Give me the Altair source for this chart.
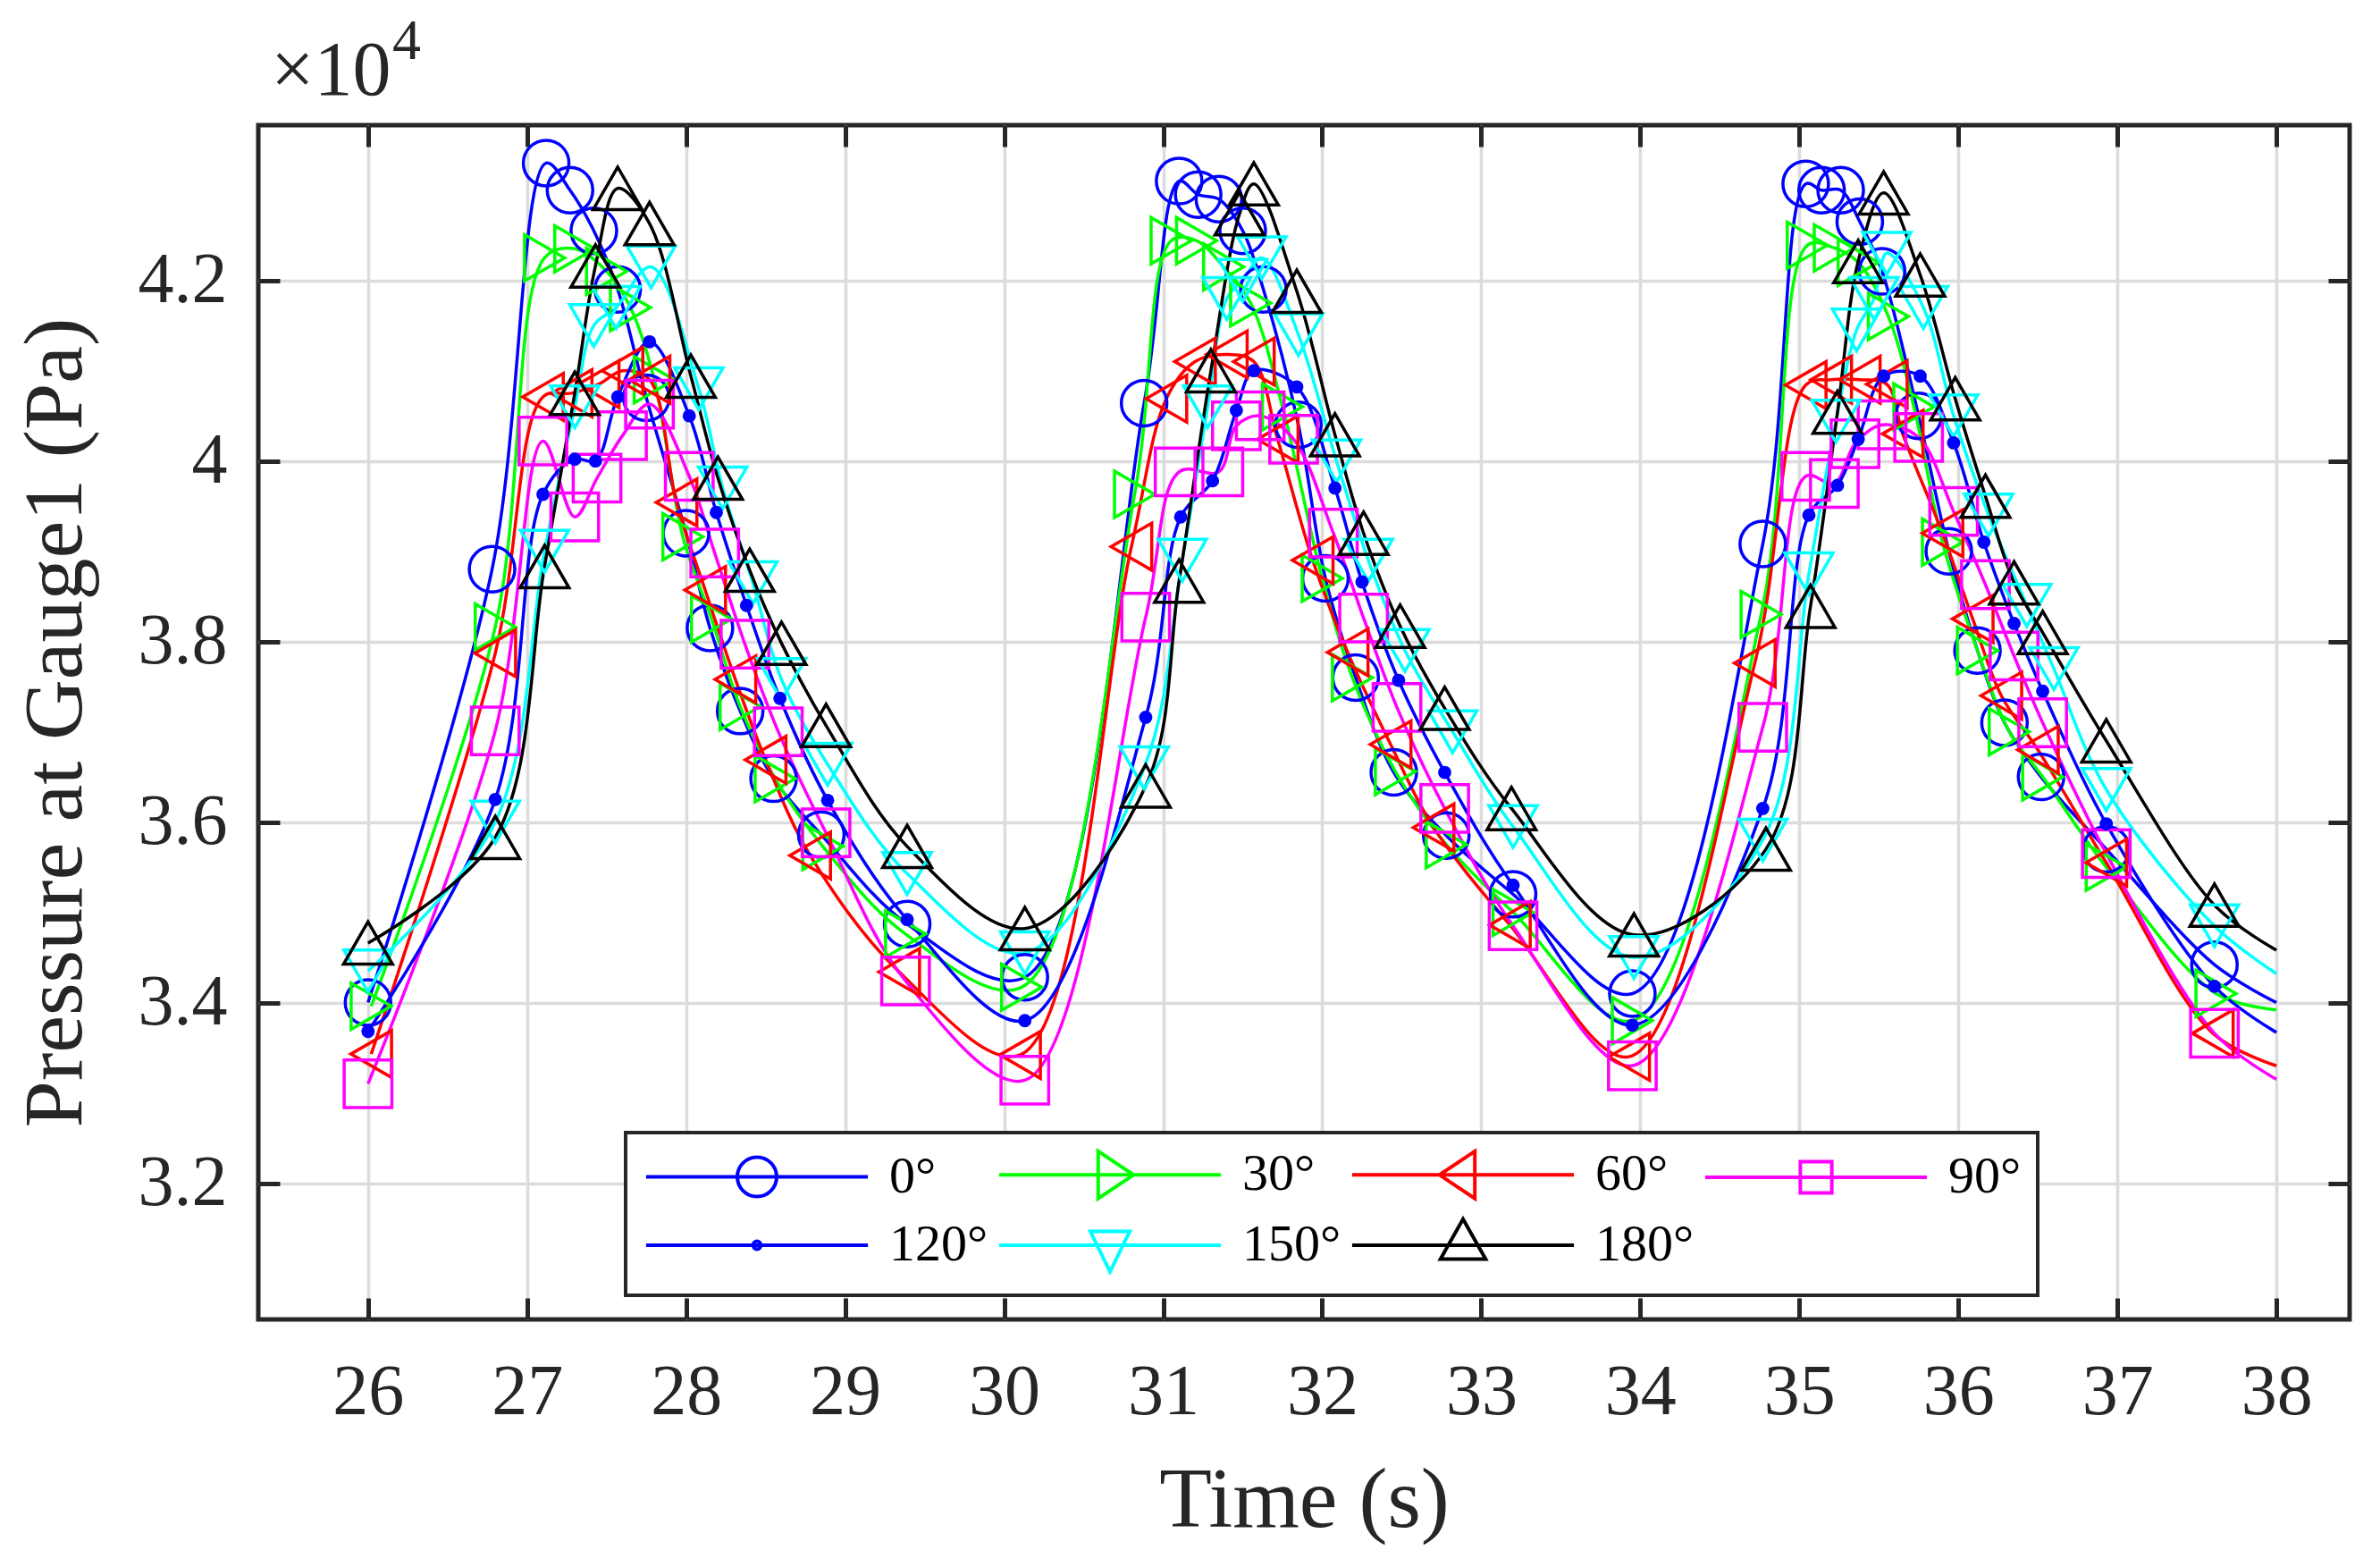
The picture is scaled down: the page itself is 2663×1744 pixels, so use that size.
import altair as alt
import pandas as pd

SERIES = ["0°", "30°", "60°", "90°", "120°", "150°", "180°"]
COLORS = ["#0000ff", "#00ff00", "#ff0000", "#ff00ff", "#0000ff", "#00ffff", "#000000"]

# pressure values in units of 1e4 Pa
T_0 = [26.00, 26.78, 27.12, 27.27, 27.42, 27.57, 27.75, 28.00, 28.15, 28.34, 28.55, 28.85, 29.39, 30.13,
       30.88, 31.10, 31.22, 31.35, 31.50, 31.63, 31.85, 32.02, 32.21, 32.45, 32.78, 33.20, 33.95,
       34.77, 35.04, 35.14, 35.26, 35.38, 35.52, 35.75, 35.94, 36.12, 36.29, 36.52, 36.93, 37.61]
P_0 = [3.400, 3.880, 4.330, 4.300, 4.255, 4.190, 4.070, 3.920, 3.815, 3.723, 3.648, 3.586, 3.487, 3.428,
       4.064, 4.310, 4.295, 4.290, 4.255, 4.190, 4.040, 3.870, 3.760, 3.655, 3.585, 3.520, 3.410,
       3.908, 4.307, 4.300, 4.300, 4.265, 4.210, 4.050, 3.900, 3.790, 3.710, 3.650, 3.570, 3.442]

T_30 = [26.02, 26.80, 27.11, 27.30, 27.50, 27.65, 27.80, 27.98, 28.16, 28.34, 28.56, 28.86, 29.38, 30.11,
        30.82, 31.05, 31.21, 31.38, 31.55, 31.75, 32.00, 32.19, 32.46, 32.78, 33.20, 33.95,
        34.76, 35.05, 35.22, 35.37, 35.56, 35.72, 35.90, 36.12, 36.32, 36.53, 36.93, 37.62]
P_30 = [3.396, 3.816, 4.225, 4.235, 4.210, 4.170, 4.090, 3.916, 3.825, 3.728, 3.648, 3.573, 3.476, 3.417,
        3.963, 4.244, 4.244, 4.215, 4.175, 4.060, 3.870, 3.760, 3.656, 3.575, 3.500, 3.380,
        3.830, 4.239, 4.236, 4.220, 4.160, 4.060, 3.910, 3.790, 3.700, 3.650, 3.550, 3.410]

T_60 = [26.02, 26.80, 27.10, 27.28, 27.45, 27.60, 27.77, 27.94, 28.12, 28.31, 28.50, 28.78, 29.34, 30.10,
        30.80, 31.02, 31.20, 31.40, 31.57, 31.72, 31.94, 32.16, 32.43, 32.70, 33.18, 33.93,
        34.72, 35.04, 35.20, 35.38, 35.55, 35.65, 35.90, 36.09, 36.27, 36.50, 36.93, 37.60]
P_60 = [3.343, 3.787, 4.071, 4.075, 4.085, 4.100, 4.090, 3.954, 3.857, 3.758, 3.669, 3.563, 3.434, 3.342,
        3.905, 4.069, 4.110, 4.118, 4.110, 4.024, 3.890, 3.788, 3.686, 3.594, 3.486, 3.340,
        3.776, 4.084, 4.090, 4.090, 4.085, 4.030, 3.920, 3.825, 3.740, 3.680, 3.555, 3.366]

T_90 = [26.00, 26.80, 27.10, 27.30, 27.44, 27.60, 27.77, 28.02, 28.18, 28.37, 28.58, 28.88, 29.38, 30.13,
        30.89, 31.10, 31.35, 31.46, 31.61, 31.82, 32.07, 32.26, 32.47, 32.77, 33.20, 33.95,
        34.77, 35.04, 35.22, 35.35, 35.52, 35.75, 35.97, 36.17, 36.35, 36.53, 36.93, 37.61]
P_90 = [3.310, 3.701, 4.022, 3.938, 3.981, 4.028, 4.063, 3.983, 3.898, 3.797, 3.700, 3.588, 3.424, 3.314,
        3.827, 3.988, 3.988, 4.039, 4.050, 4.024, 3.920, 3.826, 3.727, 3.615, 3.485, 3.330,
        3.705, 3.983, 3.975, 4.019, 4.040, 4.026, 3.944, 3.863, 3.784, 3.710, 3.565, 3.366]

T_120 = [26.00, 26.80, 27.10, 27.30, 27.43, 27.57, 27.77, 28.02, 28.19, 28.38, 28.59, 28.89, 29.39, 30.13,
         30.89, 31.11, 31.31, 31.46, 31.57, 31.84, 32.08, 32.25, 32.48, 32.77, 33.20, 33.95,
         34.77, 35.06, 35.24, 35.37, 35.53, 35.76, 35.97, 36.16, 36.35, 36.53, 36.93, 37.61]
P_120 = [3.368, 3.625, 3.963, 4.002, 4.000, 4.071, 4.132, 4.050, 3.943, 3.840, 3.737, 3.624, 3.492, 3.380,
         3.716, 3.938, 3.978, 4.056, 4.100, 4.082, 3.970, 3.866, 3.757, 3.655, 3.530, 3.375,
         3.615, 3.940, 3.973, 4.024, 4.094, 4.094, 4.020, 3.910, 3.820, 3.745, 3.598, 3.418]

T_150 = [26.00, 26.80, 27.11, 27.30, 27.42, 27.56, 27.78, 28.08, 28.23, 28.42, 28.60, 28.89, 29.39, 30.13,
         30.88, 31.12, 31.28, 31.40, 31.50, 31.62, 31.85, 32.09, 32.29, 32.52, 32.82, 33.20, 33.96,
         34.77, 35.06, 35.23, 35.36, 35.47, 35.55, 35.78, 35.97, 36.19, 36.43, 36.60, 36.93, 37.61]
P_150 = [3.435, 3.600, 3.900, 4.060, 4.150, 4.170, 4.215, 4.080, 3.970, 3.865, 3.758, 3.664, 3.543, 3.455,
         3.660, 3.890, 4.060, 4.180, 4.200, 4.225, 4.140, 4.000, 3.890, 3.790, 3.700, 3.595, 3.450,
         3.580, 3.875, 4.044, 4.145, 4.180, 4.230, 4.170, 4.050, 3.940, 3.840, 3.770, 3.636, 3.485]

T_180 = [26.00, 26.80, 27.11, 27.30, 27.43, 27.57, 27.77, 28.03, 28.20, 28.40, 28.60, 28.88, 29.39, 30.13,
         30.89, 31.10, 31.30, 31.48, 31.57, 31.84, 32.08, 32.26, 32.49, 32.77, 33.19, 33.96,
         34.79, 35.07, 35.24, 35.37, 35.53, 35.76, 35.98, 36.17, 36.35, 36.53, 36.93, 37.61]
P_180 = [3.466, 3.583, 3.883, 4.075, 4.216, 4.302, 4.263, 4.094, 3.981, 3.879, 3.798, 3.707, 3.573, 3.482,
         3.640, 3.867, 4.100, 4.274, 4.307, 4.188, 4.029, 3.920, 3.817, 3.726, 3.615, 3.475,
         3.570, 3.839, 4.054, 4.221, 4.297, 4.206, 4.069, 3.961, 3.865, 3.810, 3.690, 3.508]

# value of each curve where the lines end (t = 38 s, no marker)
END_T = 38.0
END_P = [3.400, 3.392, 3.330, 3.315, 3.367, 3.432, 3.458]

X_TICKS = [26, 27, 28, 29, 30, 31, 32, 33, 34, 35, 36, 37, 38]
Y_TICKS = [3.2, 3.4, 3.6, 3.8, 4.0, 4.2]

TS = [T_0, T_30, T_60, T_90, T_120, T_150, T_180]
PS = [P_0, P_30, P_60, P_90, P_120, P_150, P_180]

rows_m = []
for k, (s, ts, ps) in enumerate(zip(SERIES, TS, PS)):
    for t, p in zip(ts, ps):
        rows_m.append({"series": s, "t": t, "p": p, "k": k})
rows_l = list(rows_m)
for k, (s, e) in enumerate(zip(SERIES, END_P)):
    rows_l.append({"series": s, "t": END_T, "p": e, "k": k})

markers = pd.DataFrame(rows_m)
lines_df = pd.DataFrame(rows_l)
pts_df = markers[markers["series"] != "120°"]
dots_df = markers[markers["series"] == "120°"]
legend_df = pd.DataFrame({"series": SERIES, "t": [30.0] * 7, "p": [3.6] * 7})

FONT = "Liberation Serif"
TXT = "#262626"
W, H = 2340, 1336

xs = alt.Scale(domain=[25.31, 38.46], nice=False, zero=False)
ys = alt.Scale(domain=[3.049, 4.372], nice=False, zero=False)

main_x = alt.Axis(values=X_TICKS, grid=True, ticks=False, domain=False, labelFont=FONT,
                  labelFontSize=80, labelPadding=42, labelColor=TXT, title="Time (s)",
                  titleFont=FONT, titleFontSize=96, titleFontWeight="normal", titleColor=TXT,
                  titlePadding=34, gridColor="#dcdcdc", gridWidth=3.5)
main_y = alt.Axis(values=Y_TICKS, format=".1~f", grid=True, ticks=False, domain=False,
                  labelFont=FONT, labelFontSize=80, labelPadding=35, labelColor=TXT,
                  title="Pressure at Gauge1 (Pa)", titleFont=FONT, titleFontSize=94,
                  titleFontWeight="normal", titleColor=TXT, titlePadding=44,
                  gridColor="#dcdcdc", gridWidth=3.5)


def tick_axis(orient, offset, values):
    return alt.Axis(orient=orient, offset=offset, values=values, labels=False, grid=False,
                    domain=False, ticks=True, tickSize=24, tickWidth=5, tickColor=TXT, title=None)


lines = alt.Chart(lines_df).mark_line(interpolate="catmull-rom", strokeWidth=3.5).encode(
    x=alt.X("t:Q", scale=xs, axis=main_x),
    y=alt.Y("p:Q", scale=ys, axis=main_y),
    color=alt.Color("series:N", scale=alt.Scale(domain=SERIES, range=COLORS), legend=None),
)

S6 = ["0°", "30°", "60°", "90°", "150°", "180°"]
C6 = ["#0000ff", "#00ff00", "#ff0000", "#ff00ff", "#00ffff", "#000000"]
SH6 = ["circle", "triangle-right", "triangle-left", "square", "triangle-down", "triangle-up"]
SZ6 = [2600, 3000, 3000, 1450, 3100, 3100]

pts = alt.Chart(pts_df).mark_point(filled=False, strokeWidth=3.5, opacity=1).encode(
    x=alt.X("t:Q", scale=xs, axis=tick_axis("top", -H, X_TICKS)),
    y=alt.Y("p:Q", scale=ys, axis=tick_axis("right", -W, Y_TICKS)),
    color=alt.Color("series:N", scale=alt.Scale(domain=S6, range=C6), legend=None),
    shape=alt.Shape("series:N", scale=alt.Scale(domain=S6, range=SH6), legend=None),
    size=alt.Size("series:N", scale=alt.Scale(domain=S6, range=SZ6), legend=None),
    order=alt.Order("k:Q"),
)

dots = alt.Chart(dots_df).mark_circle(size=220, opacity=1, color="#0000ff").encode(
    x=alt.X("t:Q", scale=xs, axis=tick_axis("bottom", -H, X_TICKS)),
    y=alt.Y("p:Q", scale=ys, axis=tick_axis("left", -W, Y_TICKS)),
)

LN = "M-5.64,0H5.64"
LEG_PATHS = [
    LN + "M1,0A1,1,0,1,1,-1,0A1,1,0,1,1,1,0",
    LN + "M-0.6,-1.2L1.2,0L-0.6,1.2Z",
    LN + "M0.6,-1.2L-1.2,0L0.6,1.2Z",
    LN + "M-0.8,-0.8H0.8V0.8H-0.8Z",
    LN + "M0.2,0A0.2,0.2,0,1,1,-0.2,0A0.2,0.2,0,1,1,0.2,0",
    LN + "M-1,-0.7H1L0,1.35Z",
    LN + "M0,-1.33L1.15,0.7H-1.15Z",
]

leg_def = alt.Legend(orient="none", legendX=411, legendY=1127, direction="horizontal",
                     columns=4, title=None, symbolSize=1936, symbolStrokeWidth=4,
                     symbolOffset=100, labelOffset=119, labelFont=FONT, labelFontSize=58,
                     labelColor="#000000", columnPadding=3, rowPadding=6, padding=18,
                     strokeColor="#262626", fillColor="white", symbolOpacity=1,
                     symbolFillColor="transparent")

leg = alt.Chart(legend_df).mark_point(opacity=0, filled=False).encode(
    x=alt.X("t:Q", scale=xs, axis=None),
    y=alt.Y("p:Q", scale=ys, axis=None),
    color=alt.Color("series:N", scale=alt.Scale(domain=SERIES, range=COLORS), legend=leg_def),
    shape=alt.Shape("series:N", scale=alt.Scale(domain=SERIES, range=LEG_PATHS), legend=leg_def),
)

one = pd.DataFrame({"a": [0]})
mult = alt.Chart(one).mark_text(text="×10", font=FONT, fontSize=86, align="left",
                                baseline="alphabetic", color=TXT).encode(
    x=alt.value(14), y=alt.value(-34))
expo = alt.Chart(one).mark_text(text="4", font=FONT, fontSize=64, align="left",
                                baseline="alphabetic", color=TXT).encode(
    x=alt.value(150), y=alt.value(-74))

chart = alt.layer(lines, pts, dots, leg, mult, expo).resolve_scale(
    color="independent", shape="independent", size="independent"
).resolve_axis(x="independent", y="independent").properties(
    width=W, height=H,
    autosize=alt.AutoSizeParams(type="none"),
    padding={"left": 281, "top": 132, "right": 20, "bottom": 266},
).configure_view(stroke=TXT, strokeWidth=5).configure_legend(strokeWidth=4)

chart.save("out.html", embed_options={"renderer": "svg", "actions": False})
